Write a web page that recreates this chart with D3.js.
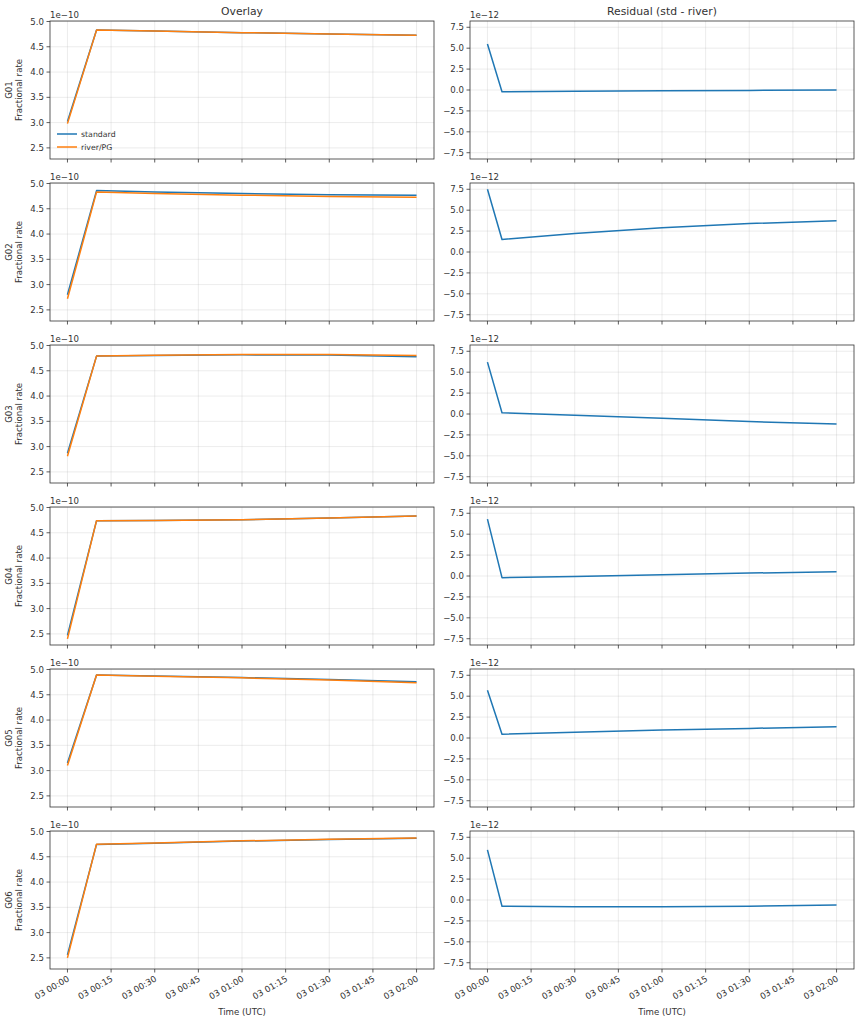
<!DOCTYPE html>
<html>
<head>
<meta charset="utf-8">
<script src="https://cdn.jsdelivr.net/npm/d3@7"></script>
<style>
  body { margin: 0; background: #fff; }
  text { font-family: "DejaVu Sans", sans-serif; fill: #333; }
</style>
</head>
<body>
<script>
// satellites, one row each
var sats = ["G01", "G02", "G03", "G04", "G05", "G06"]

// minutes after 03 00:00 UTC
var tOverlay = [0, 10, 30, 60, 90, 120]
var tResid = [0, 5, 30, 60, 90, 120]

// fractional rate, standard processing
var stdRate = [
  [3.02e-10, 4.83e-10, 4.81e-10, 4.78e-10, 4.755e-10, 4.73e-10],
  [2.80e-10, 4.86e-10, 4.83e-10, 4.80e-10, 4.78e-10, 4.77e-10],
  [2.87e-10, 4.79e-10, 4.80e-10, 4.815e-10, 4.81e-10, 4.78e-10],
  [2.47e-10, 4.74e-10, 4.745e-10, 4.76e-10, 4.79e-10, 4.83e-10],
  [3.15e-10, 4.89e-10, 4.87e-10, 4.84e-10, 4.80e-10, 4.76e-10],
  [2.56e-10, 4.745e-10, 4.77e-10, 4.81e-10, 4.84e-10, 4.865e-10]
]
// fractional rate, river/PG processing
var riverRate = [
  [2.98e-10, 4.83e-10, 4.81e-10, 4.78e-10, 4.755e-10, 4.73e-10],
  [2.72e-10, 4.83e-10, 4.80e-10, 4.77e-10, 4.745e-10, 4.73e-10],
  [2.81e-10, 4.79e-10, 4.805e-10, 4.82e-10, 4.82e-10, 4.80e-10],
  [2.40e-10, 4.74e-10, 4.745e-10, 4.76e-10, 4.79e-10, 4.83e-10],
  [3.10e-10, 4.89e-10, 4.865e-10, 4.835e-10, 4.79e-10, 4.74e-10],
  [2.50e-10, 4.75e-10, 4.775e-10, 4.815e-10, 4.845e-10, 4.87e-10]
]
// residual std - river
var resid = [
  [5.5e-12, -0.2e-12, -0.15e-12, -0.1e-12, -0.05e-12, 0.0],
  [7.5e-12, 1.5e-12, 2.2e-12, 2.9e-12, 3.4e-12, 3.75e-12],
  [6.2e-12, 0.15e-12, -0.15e-12, -0.5e-12, -0.9e-12, -1.2e-12],
  [6.8e-12, -0.2e-12, -0.05e-12, 0.15e-12, 0.35e-12, 0.5e-12],
  [5.7e-12, 0.45e-12, 0.7e-12, 0.95e-12, 1.15e-12, 1.35e-12],
  [6.0e-12, -0.75e-12, -0.8e-12, -0.8e-12, -0.75e-12, -0.6e-12]
]

var leftTicks = [2.5e-10, 3.0e-10, 3.5e-10, 4.0e-10, 4.5e-10, 5.0e-10]
var rightTicks = [-7.5e-12, -5e-12, -2.5e-12, 0, 2.5e-12, 5e-12, 7.5e-12]
var seriesNames = ["standard", "river/PG"]
var colors = ["#1f77b4", "#ff7f0e"]

var t0 = Date.UTC(2024, 0, 3, 0, 0)
function toDate(m) { return new Date(t0 + m * 60000) }

var W = 861, H = 1024
var svg = d3.select("body").append("svg")
  .attr("width", W)
  .attr("height", H)

svg.append("rect").attr("width", W).attr("height", H).attr("fill", "#fff")

var rowTop = 21, rowStep = 162, plotH = 138
var cols = [{ x0: 50, x1: 434 }, { x0: 470, x1: 854 }]

var xLeft = d3.scaleUtc().domain([toDate(-6), toDate(126)]).range([cols[0].x0, cols[0].x1])
var xRight = d3.scaleUtc().domain([toDate(-6), toDate(126)]).range([cols[1].x0, cols[1].x1])
var xTicks = d3.utcMinute.every(15).range(toDate(0), toDate(121))
var fmtTime = d3.utcFormat("%d %H:%M")

function minus(s) { return s.replace("-", "\u2212") }

function drawPanel(x, y, top, yTicks, yFmt, offsetText, isBottom) {
  var g = svg.append("g")
  var x0 = x.range()[0], x1 = x.range()[1]
  var bottom = top + plotH

  // grid
  g.selectAll(".gx").data(xTicks).enter().append("line")
    .attr("x1", function(d) { return x(d) }).attr("x2", function(d) { return x(d) })
    .attr("y1", top).attr("y2", bottom)
    .attr("stroke", "#b0b0b0").attr("stroke-opacity", 0.3).attr("stroke-width", 0.8)
  g.selectAll(".gy").data(yTicks).enter().append("line")
    .attr("x1", x0).attr("x2", x1)
    .attr("y1", function(d) { return y(d) }).attr("y2", function(d) { return y(d) })
    .attr("stroke", "#b0b0b0").attr("stroke-opacity", 0.3).attr("stroke-width", 0.8)

  // tick marks
  g.selectAll(".tx").data(xTicks).enter().append("line")
    .attr("x1", function(d) { return x(d) }).attr("x2", function(d) { return x(d) })
    .attr("y1", bottom).attr("y2", bottom + 3.5)
    .attr("stroke", "#333").attr("stroke-width", 0.8)
  g.selectAll(".ty").data(yTicks).enter().append("line")
    .attr("x1", x0 - 3.5).attr("x2", x0)
    .attr("y1", function(d) { return y(d) }).attr("y2", function(d) { return y(d) })
    .attr("stroke", "#333").attr("stroke-width", 0.8)

  g.selectAll(".ly").data(yTicks).enter().append("text")
    .attr("x", x0 - 6).attr("y", function(d) { return y(d) })
    .attr("dy", "0.35em")
    .attr("text-anchor", "end")
    .attr("font-size", 8.6)
    .text(yFmt)

  g.append("text")
    .attr("x", x0).attr("y", top - 3)
    .attr("font-size", 8.6)
    .text(offsetText)

  if (isBottom) {
    g.selectAll(".lx").data(xTicks).enter().append("text")
      .attr("transform", function(d) { return "translate(" + (x(d) + 1) + "," + (bottom + 9) + ") rotate(-30)" })
      .attr("dy", "0.35em")
      .attr("text-anchor", "end")
      .attr("font-size", 8.6)
      .text(fmtTime)
    g.append("text")
      .attr("x", (x0 + x1) / 2).attr("y", 1015)
      .attr("text-anchor", "middle")
      .attr("font-size", 8.6)
      .text("Time (UTC)")
  }
  return g
}

var line = d3.line()

sats.forEach(function(sat, i) {
  var top = rowTop + i * rowStep
  var bottom = top + plotH
  var isBottom = i === sats.length - 1

  // overlay
  var yL = d3.scaleLinear().domain([2.28e-10, 5.01e-10]).range([bottom, top])
  var gL = drawPanel(xLeft, yL, top, leftTicks,
    function(d) { return (d / 1e-10).toFixed(1) }, minus("1e-10"), isBottom)

  ;[stdRate[i], riverRate[i]].forEach(function(vals, k) {
    gL.append("path")
      .attr("d", line(tOverlay.map(function(t, j) { return [xLeft(toDate(t)), yL(vals[j])] })))
      .attr("fill", "none")
      .attr("stroke", colors[k])
      .attr("stroke-width", 1.5)
      .attr("stroke-linejoin", "round")
  })

  gL.append("rect")
    .attr("x", cols[0].x0).attr("y", top)
    .attr("width", cols[0].x1 - cols[0].x0).attr("height", plotH)
    .attr("fill", "none").attr("stroke", "#333").attr("stroke-width", 0.8)

  var yl = gL.append("text")
    .attr("transform", "translate(12," + (top + plotH / 2) + ") rotate(-90)")
    .attr("text-anchor", "middle")
    .attr("font-size", 8.6)
  yl.append("tspan").attr("x", 0).attr("dy", 0).text(sat)
  yl.append("tspan").attr("x", 0).attr("dy", "1.15em").text("Fractional rate")

  if (i === 0) {
    var leg = gL.append("g")
    seriesNames.forEach(function(name, k) {
      var ly = 134 + k * 13
      leg.append("line")
        .attr("x1", 57).attr("x2", 77).attr("y1", ly).attr("y2", ly)
        .attr("stroke", colors[k]).attr("stroke-width", 1.5)
      leg.append("text")
        .attr("x", 81).attr("y", ly).attr("dy", "0.35em")
        .attr("font-size", 7.8)
        .text(name)
    })
    svg.append("text")
      .attr("x", (cols[0].x0 + cols[0].x1) / 2).attr("y", 15)
      .attr("text-anchor", "middle").attr("font-size", 10.8)
      .text("Overlay")
  }

  // residual
  var yR = d3.scaleLinear().domain([-8.25e-12, 8.25e-12]).range([bottom, top])
  var gR = drawPanel(xRight, yR, top, rightTicks,
    function(d) { return minus((d / 1e-12).toFixed(1)) }, minus("1e-12"), isBottom)

  gR.append("path")
    .attr("d", line(tResid.map(function(t, j) { return [xRight(toDate(t)), yR(resid[i][j])] })))
    .attr("fill", "none")
    .attr("stroke", colors[0])
    .attr("stroke-width", 1.5)
    .attr("stroke-linejoin", "round")

  gR.append("rect")
    .attr("x", cols[1].x0).attr("y", top)
    .attr("width", cols[1].x1 - cols[1].x0).attr("height", plotH)
    .attr("fill", "none").attr("stroke", "#333").attr("stroke-width", 0.8)

  if (i === 0) {
    svg.append("text")
      .attr("x", (cols[1].x0 + cols[1].x1) / 2).attr("y", 15)
      .attr("text-anchor", "middle").attr("font-size", 10.8)
      .text("Residual (std - river)")
  }
})
</script>
</body>
</html>
